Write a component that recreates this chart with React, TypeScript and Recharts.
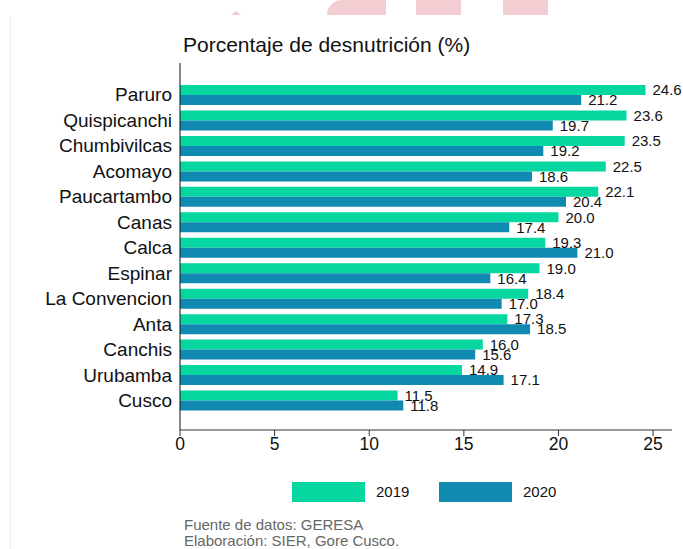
import React from 'react';
import { BarChart, Bar, XAxis, YAxis, LabelList, Legend } from 'recharts';

// datos
const provincias = [
  'Paruro',
  'Quispicanchi',
  'Chumbivilcas',
  'Acomayo',
  'Paucartambo',
  'Canas',
  'Calca',
  'Espinar',
  'La Convencion',
  'Anta',
  'Canchis',
  'Urubamba',
  'Cusco',
];
const valores2019 = [24.6, 23.6, 23.5, 22.5, 22.1, 20.0, 19.3, 19.0, 18.4, 17.3, 16.0, 14.9, 11.5];
const valores2020 = [21.2, 19.7, 19.2, 18.6, 20.4, 17.4, 21.0, 16.4, 17.0, 18.5, 15.6, 17.1, 11.8];
const xTicks = [0, 5, 10, 15, 20, 25];

const FONT = '"Liberation Sans", Arial, sans-serif';
const VERDE = '#06d6a0';
const AZUL = '#118ab2';

const data = provincias.map((name, i) => ({
  name,
  y2019: valores2019[i],
  y2020: valores2020[i],
}));

const LegendContent = () => (
  <div style={{ position: 'relative', height: 20, fontFamily: FONT, fontSize: 15, color: '#111' }}>
    <div style={{ position: 'absolute', left: 292, top: 0, width: 73, height: 20, background: VERDE }} />
    <span style={{ position: 'absolute', left: 376, top: 1 }}>2019</span>
    <div style={{ position: 'absolute', left: 439, top: 0, width: 73, height: 20, background: AZUL }} />
    <span style={{ position: 'absolute', left: 523, top: 1 }}>2020</span>
  </div>
);

const fmt = (v: any) => Number(v).toFixed(1);

export default function App() {
  return (
    <div
      style={{
        position: 'absolute',
        left: 0,
        top: 0,
        width: 683,
        height: 549,
        background: '#fff',
        overflow: 'hidden',
        fontFamily: FONT,
      }}
    >
      {/* logo de fondo */}
      <div style={{ position: 'absolute', left: 327, top: 0, width: 59, height: 15, background: '#f2cdd1', borderTopLeftRadius: 30 }} />
      <div style={{ position: 'absolute', left: 416, top: 0, width: 45, height: 15, background: '#f2cdd1' }} />
      <div style={{ position: 'absolute', left: 503, top: 0, width: 45, height: 15, background: '#f2cdd1' }} />
      <div
        style={{
          position: 'absolute',
          left: 231,
          top: 11,
          width: 0,
          height: 0,
          borderLeft: '5px solid transparent',
          borderRight: '5px solid transparent',
          borderBottom: '4px solid #f2cdd1',
        }}
      />
      <div style={{ position: 'absolute', left: 10, top: 16, width: 1, height: 533, background: '#ececec' }} />

      <div style={{ position: 'absolute', left: 183, top: 33, fontSize: 21, color: '#111' }}>
        Porcentaje de desnutrición (%)
      </div>

      <BarChart
        width={683}
        height={549}
        data={data}
        layout="vertical"
        margin={{ top: 63, right: 11, bottom: 69, left: 0 }}
        barGap={0}
        style={{ position: 'absolute', left: 0, top: 0 }}
      >
        <XAxis
          type="number"
          domain={[0, 26]}
          ticks={xTicks}
          height={30}
          axisLine={{ stroke: '#333' }}
          tickLine={{ stroke: '#333' }}
          tick={{ fill: '#111', fontSize: 17.5, fontFamily: FONT }}
        />
        <YAxis
          type="category"
          dataKey="name"
          width={180}
          padding={{ top: 19, bottom: 17 }}
          axisLine={{ stroke: '#111' }}
          tickLine={false}
          tick={{ fill: '#111', fontSize: 19, fontFamily: FONT }}
          interval={0}
        />
        <Legend
          verticalAlign="bottom"
          content={<LegendContent />}
          wrapperStyle={{ left: 0, top: 482, width: 683 }}
        />
        <Bar dataKey="y2019" name="2019" fill={VERDE} barSize={10} isAnimationActive={false}>
          <LabelList
            dataKey="y2019"
            position="right"
            offset={7}
            formatter={fmt}
            style={{ fill: '#111', fontSize: 15, fontFamily: FONT }}
          />
        </Bar>
        <Bar dataKey="y2020" name="2020" fill={AZUL} barSize={10} isAnimationActive={false}>
          <LabelList
            dataKey="y2020"
            position="right"
            offset={7}
            formatter={fmt}
            style={{ fill: '#111', fontSize: 15, fontFamily: FONT }}
          />
        </Bar>
      </BarChart>

      <div style={{ position: 'absolute', left: 184, top: 517, fontSize: 15, color: '#666', lineHeight: '16px' }}>
        Fuente de datos: GERESA
        <br />
        Elaboración: SIER, Gore Cusco.
      </div>
    </div>
  );
}
